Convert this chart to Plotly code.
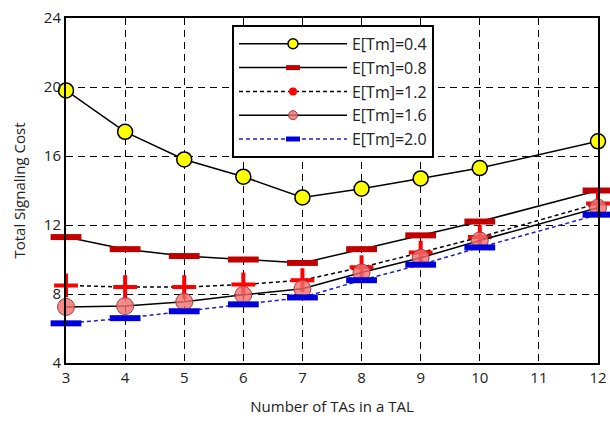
import plotly.graph_objects as go

x_vals = [3, 4, 5, 6, 7, 8, 9, 10, 12]
s04 = [19.8, 17.4, 15.8, 14.8, 13.6, 14.1, 14.7, 15.3, 16.85]
s08 = [11.3, 10.6, 10.2, 10.0, 9.8, 10.6, 11.4, 12.2, 14.0]
s12 = [8.5, 8.4, 8.4, 8.55, 8.8, 9.55, 10.4, 11.3, 13.25]
s16 = [7.25, 7.3, 7.55, 7.95, 8.3, 9.25, 10.1, 11.1, 13.0]
s20 = [6.3, 6.6, 7.0, 7.4, 7.8, 8.8, 9.7, 10.7, 12.6]
names = ["E[Tm]=0.4", "E[Tm]=0.8", "E[Tm]=1.2", "E[Tm]=1.6", "E[Tm]=2.0"]
y_ticks = [4, 8, 12, 16, 20, 24]
x_ticks = [3, 4, 5, 6, 7, 8, 9, 10, 11, 12]

styles = [
    (s04, dict(color="black", width=1.5), dict(symbol="circle", size=15, color="#ffff00", line=dict(color="black", width=1.5)),
     dict(symbol="circle", size=10, color="#ffff00", line=dict(color="black", width=1.5))),
    (s08, dict(color="black", width=1.5), dict(symbol="line-ew", size=22, line=dict(color="#c00000", width=6)),
     dict(symbol="line-ew", size=10, line=dict(color="#c00000", width=5))),
    (s12, dict(color="black", width=1.5, dash="4px,3px"), dict(symbol="cross-thin", size=17, line=dict(color="#ff0000", width=4)),
     dict(symbol="circle", size=8, color="#ff0000", line=dict(width=0))),
    (s16, dict(color="black", width=1.5), dict(symbol="circle", size=17, color="rgba(240,110,110,0.8)", line=dict(color="#a04040", width=1)),
     dict(symbol="circle", size=9, color="rgba(240,110,110,0.8)", line=dict(color="#a04040", width=1))),
    (s20, dict(color="#2020c0", width=1.5, dash="4px,3px"), dict(symbol="line-ew", size=22, line=dict(color="#0000dd", width=6)),
     dict(symbol="line-ew", size=10, line=dict(color="#0000dd", width=6))),
]

fig = go.Figure()
for name, (ys, ln, mk, lmk) in zip(names, styles):
    fig.add_trace(go.Scatter(x=x_vals, y=ys, mode="lines+markers", line=ln, marker=mk,
                             showlegend=False, cliponaxis=False))
for name, (ys, ln, mk, lmk) in zip(names, styles):
    fig.add_trace(go.Scatter(x=[None], y=[None], mode="lines+markers", line=ln, marker=lmk, name=name))

axis_common = dict(
    showline=True, linecolor="black", linewidth=2, mirror=True,
    showgrid=True, gridcolor="black", gridwidth=1.3, griddash="7px,5px",
    zeroline=False, ticks="", tickfont=dict(size=15, color="#222"), automargin=False,
)
fig.update_xaxes(range=[3, 12], tickvals=x_ticks, title=dict(text="Number of TAs in a TAL", font=dict(size=15, color="#222")), **axis_common)
fig.update_yaxes(range=[4, 24], tickvals=y_ticks, title=dict(text="Total Signaling Cost", font=dict(size=15, color="#222")), **axis_common)

fig.update_layout(
    width=610, height=421,
    margin=dict(l=66, r=12, t=18, b=58),
    plot_bgcolor="white", paper_bgcolor="white",
    font=dict(family="Open Sans, Noto Sans, sans-serif", size=15, color="#222"),
    legend=dict(x=0.312, y=0.98, xanchor="left", yanchor="top", bgcolor="white",
                bordercolor="black", borderwidth=2, font=dict(size=16),
                tracegroupgap=3, itemwidth=108),
    showlegend=True,
)
fig.write_html("out.html", config={"displayModeBar": False},
               post_script="document.body.style.margin='0';")
